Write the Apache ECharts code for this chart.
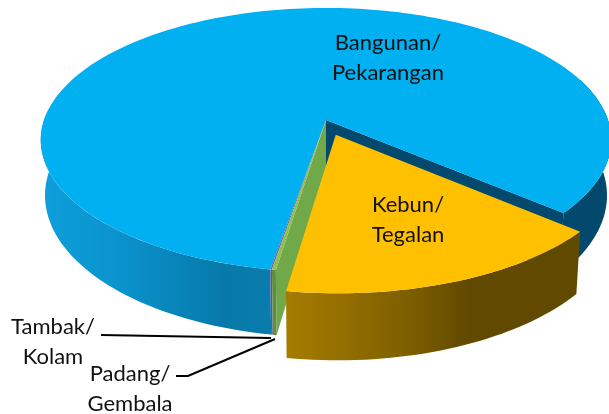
<!DOCTYPE html>
<html><head><meta charset="utf-8">
<style>html,body{margin:0;padding:0;background:#fff}#c{width:609px;height:414px}</style>
<script src="https://cdn.jsdelivr.net/npm/echarts@6/dist/echarts.min.js"></script>
</head><body><div id="c"></div>
<script>
// clockwise from the first slice
const categories = ['Kebun/\nTegalan', 'Padang/\nGembala', 'Tambak/\nKolam', 'Bangunan/\nPekarangan'];
const values = [16.14, 0.19, 0.08, 83.59];
const colors = ['#ffc000', '#8cc04f', '#7b5aa6', '#00b0f0'];
const firstAngle = 40.6;

const P = {ax: 326, ay: 120, a: 282, b: 129, k: 0.151, depth: 54, sx: 0.985, sy: 1.075};
function proj(X, Y, low) {
  const w = 1 - P.k * Y;
  return [P.ax + (low ? P.sx : 1) * P.a * X / w, P.ay + (low ? P.depth : 0) + (low ? P.sy : 1) * P.b * Y / w];
}
function arc(a0, a1, o, low, r) {
  r = r || 1;
  const n = Math.max(2, Math.ceil(Math.abs(a1 - a0) / 1.5)), pts = [];
  for (let i = 0; i <= n; i++) {
    const t = (a0 + (a1 - a0) * i / n) * Math.PI / 180;
    pts.push(proj(o[0] + r * Math.cos(t), o[1] + r * Math.sin(t), low));
  }
  return pts;
}
const poly = (points, fill, z) => ({type: 'polygon', shape: {points}, style: {fill}, z2: z, silent: true});
const lg = (stops) => new echarts.graphic.LinearGradient(0, 0, 1, 0, stops.map((c) => ({offset: c[0], color: c[1]})));

let acc = firstAngle;
const spans = values.map(v => { const s = [acc, acc + v * 3.6]; acc = s[1]; return s; });
const yellowOff = [0.034, 0.112], yellowR = 1.005;
const O = [0, 0];

function build() {
  const [ky, pd, tb, bg] = spans, kids = [];
  const top = (s, o, r) => [proj(o[0], o[1]), ...arc(s[0], s[1], o, false, r)];
  // blue slice: right outer wall, cut wall and left wall
  kids.push(poly([...arc(bg[1] - 60, bg[1], O), ...arc(bg[1], bg[1] - 60, O, true)], '#03496e', 1));
  kids.push(poly([proj(0, 0), ...arc(bg[1], bg[1], O), ...arc(bg[1], bg[1], O, true), proj(0, 0, true)], '#03496e', 2));
  kids.push(poly([...arc(bg[0], 185, O), ...arc(185, bg[0], O, true)],
    lg([[0, '#0e9fdc'], [0.35, '#0a92cc'], [0.8, '#0679a9'], [1, '#0a7cae']]), 3));
  kids.push(poly(top(bg, O), colors[3], 4));
  // tambak
  kids.push(poly([...arc(tb[0], tb[1], O), ...arc(tb[1], tb[0], O, true)], '#6b4f96', 5));
  kids.push(poly(top(tb, O), colors[2], 6));
  // padang: cut wall, outer wall, top
  kids.push(poly([proj(0, 0), ...arc(pd[0], pd[0], O), ...arc(pd[0], pd[0], O, true), proj(0, 0, true)], '#70a84a', 7));
  kids.push(poly([...arc(pd[0], pd[1], O), ...arc(pd[1], pd[0], O, true)], '#5f8f3e', 8));
  kids.push(poly(top(pd, O), colors[1], 9));
  // kebun, exploded
  kids.push(poly([...arc(ky[0], ky[1], yellowOff, false, yellowR), ...arc(ky[1], ky[0], yellowOff, true, yellowR)],
    lg([[0, '#a67c00'], [0.4, '#7f6000'], [0.62, '#614900'], [1, '#614900']]), 10));
  kids.push(poly(top(ky, yellowOff, yellowR), colors[0], 11));
  // labels
  const lab = (t, x, y) => ({type: 'text', z2: 20, silent: true, style: {text: t, x, y, fill: '#111', font: '22px Lato', align: 'center', verticalAlign: 'middle', lineHeight: 30}});
  kids.push(lab(categories[3], 388, 58));
  kids.push(lab(categories[0], 408, 220));
  kids.push(lab(categories[2], 53, 342));
  kids.push(lab(categories[1], 130, 389));
  // leaders
  const line = (pts) => ({type: 'polyline', z2: 19, silent: true, shape: {points: pts}, style: {fill: null, stroke: '#000', lineWidth: 2}});
  kids.push(line([[101, 335], [271, 338]]));
  kids.push(line([[176, 376], [188, 376], [275, 339]]));
  return {type: 'group', children: kids};
}
const chart = echarts.init(document.getElementById('c'), null, {renderer: 'canvas'});
chart.setOption({
  animation: false,
  xAxis: {show: false}, yAxis: {show: false},
  series: [{type: 'custom', coordinateSystem: 'none', clip: false, silent: true, data: values, renderItem: (p) => p.dataIndex === 0 ? build() : null}]
});
</script></body></html>
